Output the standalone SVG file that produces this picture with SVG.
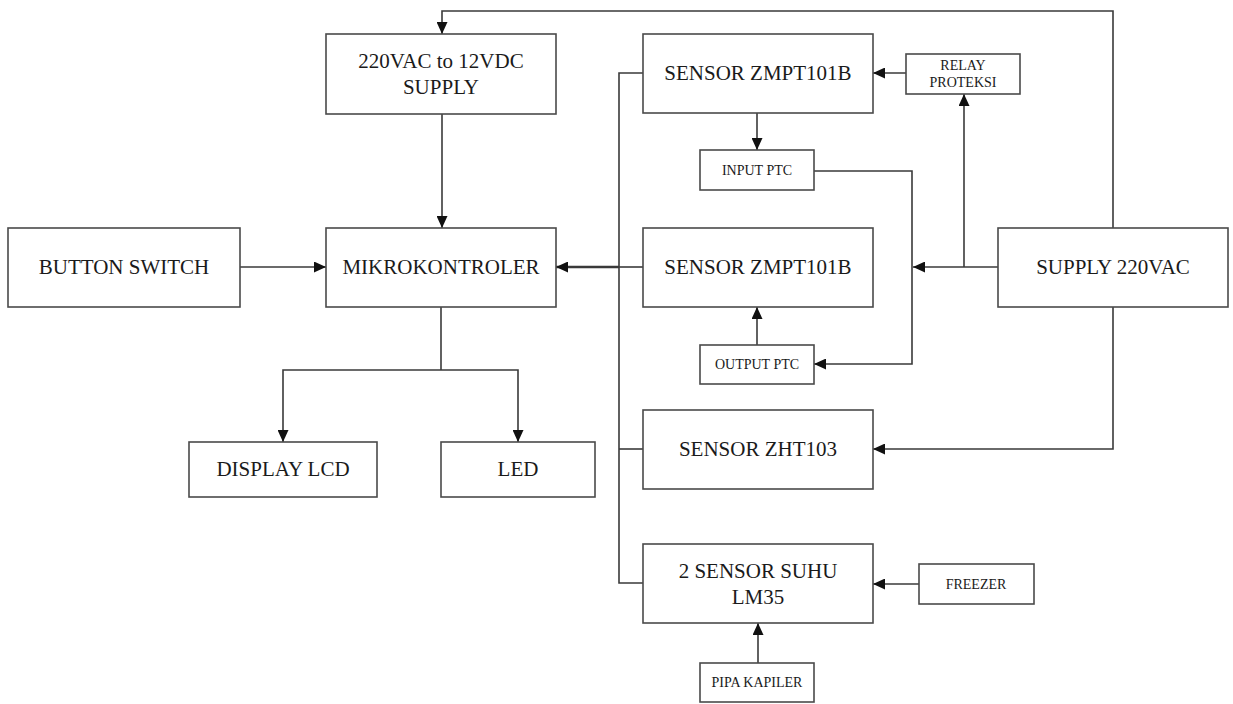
<svg xmlns="http://www.w3.org/2000/svg" width="1233" height="704" viewBox="0 0 1233 704">
<style>
.box{fill:#fff;stroke:#4a4a4a;stroke-width:1.6}
.t{font-family:"Liberation Serif","Times New Roman",serif;font-size:21px;fill:#1a1a1a;text-anchor:middle}
.s{font-family:"Liberation Serif","Times New Roman",serif;font-size:14px;fill:#1a1a1a;text-anchor:middle}
.c{fill:none;stroke:#3a3a3a;stroke-width:1.6}
.a{marker-end:url(#arr)}
.thick{stroke-width:2.6}
</style>
<defs>
<marker id="arr" markerUnits="userSpaceOnUse" markerWidth="12" markerHeight="11" refX="12" refY="5.5" orient="auto">
<path d="M0,0 L12,5.5 L0,11 z" fill="#111"/>
</marker>
</defs>
<rect width="1233" height="704" fill="#fff"/>
<g id="connectors">
<path class="c a" d="M1113,228 V11 H442 V34"/>
<path class="c a" d="M442,114 V228"/>
<path class="c a" d="M240,267 H326"/>
<path class="c" d="M643,73 H619 V583 H643"/>
<path class="c" d="M619,267 H643"/>
<path class="c" d="M619,449 H643"/>
<path class="c thick a" d="M619,267 H556"/>
<path class="c" d="M441,307 V370"/>
<path class="c a" d="M441,370 H283 V442"/>
<path class="c a" d="M441,370 H518 V442"/>
<path class="c a" d="M906,73 H873"/>
<path class="c a" d="M998,267 H913"/>
<path class="c a" d="M964,267 V94"/>
<path class="c a" d="M757,113 V150"/>
<path class="c a" d="M814,171 H912 V364 H814"/>
<path class="c a" d="M757,345 V307"/>
<path class="c a" d="M1113,307 V449 H873"/>
<path class="c a" d="M919,584 H873"/>
<path class="c a" d="M758,663 V623"/>
</g>
<g id="supply12v">
<rect class="box" x="326" y="34" width="230" height="80"/>
<text class="t" x="441" y="68">220VAC to 12VDC</text>
<text class="t" x="441" y="94">SUPPLY</text>
</g>
<g id="sensor_zmpt1">
<rect class="box" x="643" y="34" width="230" height="79"/>
<text class="t" x="758" y="80">SENSOR ZMPT101B</text>
</g>
<g id="relay">
<rect class="box" x="906" y="54" width="114" height="40"/>
<text class="s" x="963" y="70">RELAY</text>
<text class="s" x="963" y="87">PROTEKSI</text>
</g>
<g id="input_ptc">
<rect class="box" x="700" y="150" width="114" height="40"/>
<text class="s" x="757" y="175">INPUT PTC</text>
</g>
<g id="button">
<rect class="box" x="8" y="228" width="232" height="79"/>
<text class="t" x="124" y="274">BUTTON SWITCH</text>
</g>
<g id="mikro">
<rect class="box" x="326" y="228" width="230" height="79"/>
<text class="t" x="441" y="274">MIKROKONTROLER</text>
</g>
<g id="sensor_zmpt2">
<rect class="box" x="643" y="228" width="230" height="79"/>
<text class="t" x="758" y="274">SENSOR ZMPT101B</text>
</g>
<g id="supply220">
<rect class="box" x="998" y="228" width="230" height="79"/>
<text class="t" x="1113" y="274">SUPPLY 220VAC</text>
</g>
<g id="output_ptc">
<rect class="box" x="700" y="345" width="114" height="39"/>
<text class="s" x="757" y="369">OUTPUT PTC</text>
</g>
<g id="sensor_zht">
<rect class="box" x="643" y="410" width="230" height="79"/>
<text class="t" x="758" y="456">SENSOR ZHT103</text>
</g>
<g id="lcd">
<rect class="box" x="189" y="442" width="188" height="55"/>
<text class="t" x="283" y="476">DISPLAY LCD</text>
</g>
<g id="led">
<rect class="box" x="441" y="442" width="154" height="55"/>
<text class="t" x="518" y="476">LED</text>
</g>
<g id="suhu">
<rect class="box" x="643" y="544" width="230" height="79"/>
<text class="t" x="758" y="578">2 SENSOR SUHU</text>
<text class="t" x="758" y="604">LM35</text>
</g>
<g id="freezer">
<rect class="box" x="919" y="564" width="115" height="40"/>
<text class="s" x="976" y="589">FREEZER</text>
</g>
<g id="pipa">
<rect class="box" x="700" y="663" width="114" height="39"/>
<text class="s" x="757" y="687">PIPA KAPILER</text>
</g>
</svg>
